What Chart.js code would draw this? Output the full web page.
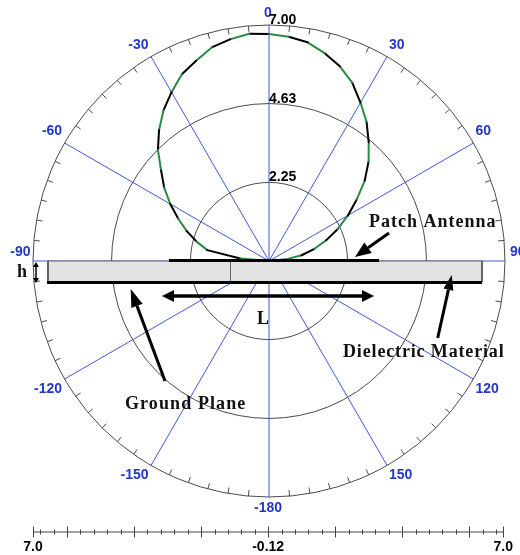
<!DOCTYPE html>
<html>
<head>
<meta charset="utf-8">
<title>Patch antenna radiation pattern</title>
<script src="https://cdn.jsdelivr.net/npm/chart.js@4"></script>
<style>
    html, body { margin: 0; padding: 0; background: #fff; overflow: hidden; }
    canvas { position: absolute; left: 0; }
    #polar-chart { top: 0; }
    #range-axis { top: 510px; }
</style>
</head>
<body>
<canvas id="polar-chart" width="520" height="522"></canvas>
<canvas id="range-axis" width="520" height="45"></canvas>
<script>
// Pattern, one value every 5 degrees
const patternAngles = [
    -90, -85, -80, -75, -70, -65, -60, -55, -50, -45, -40, -35, -30, -25, -20, -15, -10, -5,
    0, 5, 10, 15, 20, 25, 30, 35, 40, 45, 50, 55, 60, 65, 70, 75, 80, 85, 90
];
const patternValues = [
    -0.12, 0.75, 1.77, 2.14, 2.52, 2.90, 3.32, 3.74, 4.13, 4.62, 5.04, 5.43, 5.76, 6.10, 6.31, 6.55, 6.67, 6.76,
    6.73, 6.67, 6.58, 6.37, 6.13, 5.82, 5.40, 5.01, 4.56, 4.13, 3.65, 3.11, 2.63, 2.17, 1.72, 1.30, 0.88, 0.36, -0.12
];

const ringValues = [2.25, 4.63, 7.00];
const ringLabels = ['2.25', '4.63', '7.00'];
const rangeMin = -0.12;
const rangeMax = 7.00;

const axisLabels = ['7.0', '-0.12', '7.0'];
const axisHalfSpan = 7.12;
const axisMinorStep = 0.406;

const BLUE = '#4358d8';
const TEXT_BLUE = '#2436c8';
const GRID = '#4a4a4a';
const GREEN = '#2a8a45';
const INK = '#111';
const SERIF = "'Liberation Serif', serif";
const SANS = "'Liberation Sans', Arial, sans-serif";

// spokes run clockwise from the top, every 5 degrees
const spokeAngles = [];
for (let a = 0; a < 360; a += 5) spokeAngles.push(a);

const spokeLabels = spokeAngles.map(a => String(a <= 150 ? a : a - 360));

const spokeValues = spokeAngles.map(a => {
    const i = patternAngles.indexOf(a <= 180 ? a : a - 360);
    return i === -1 ? null : patternValues[i];
});

// the trace alternates green and black every sample, radar has no segment option
// so each piece between two samples is its own small dataset
const patternDatasets = [];
spokeValues.forEach((v, i) => {
    const next = (i + 1) % spokeValues.length;
    if (v === null || spokeValues[next] === null) return;
    patternDatasets.push({
        data: spokeValues.map((value, k) => (k === i || k === next) ? value : null),
        borderWidth: 2,
        borderColor: i % 2 === 0 ? GREEN : '#000',
        borderCapStyle: 'round',
        backgroundColor: 'transparent',
        fill: false,
        tension: 0,
        spanGaps: false,
        pointRadius: 0
    });
});

function drawArrow(ctx, x0, y0, x1, y1, width, headLength, headWidth) {
    const angle = Math.atan2(y1 - y0, x1 - x0);
    const bx = x1 - Math.cos(angle) * headLength;
    const by = y1 - Math.sin(angle) * headLength;
    ctx.strokeStyle = '#000';
    ctx.fillStyle = '#000';
    ctx.lineWidth = width;
    ctx.beginPath();
    ctx.moveTo(x0, y0);
    ctx.lineTo(bx, by);
    ctx.stroke();
    ctx.beginPath();
    ctx.moveTo(x1, y1);
    ctx.lineTo(bx - Math.sin(angle) * headWidth / 2, by + Math.cos(angle) * headWidth / 2);
    ctx.lineTo(bx + Math.sin(angle) * headWidth / 2, by - Math.cos(angle) * headWidth / 2);
    ctx.closePath();
    ctx.fill();
}

function drawNote(ctx, text, x, y, spacing) {
    ctx.font = 'bold 18px ' + SERIF;
    ctx.letterSpacing = spacing + 'px';
    ctx.textAlign = 'left';
    ctx.textBaseline = 'alphabetic';
    ctx.fillStyle = INK;
    ctx.fillText(text, x, y);
    ctx.letterSpacing = '0px';
}

// rim ticks, spoke captions and ring captions
const polarLabels = {
    id: 'polarLabels',
    afterDatasetsDraw(chart) {
        const { ctx, scales: { r } } = chart;
        const rim = r.getDistanceFromCenterForValue(rangeMax);
        ctx.save();

        ctx.strokeStyle = GRID;
        ctx.lineWidth = 1;
        spokeAngles.forEach((a, i) => {
            if (a % 30 === 0) return;
            const outer = r.getPointPosition(i, rim);
            const inner = r.getPointPosition(i, rim - 6);
            ctx.beginPath();
            ctx.moveTo(outer.x, outer.y);
            ctx.lineTo(inner.x, inner.y);
            ctx.stroke();
        });

        ctx.font = 'bold 14px ' + SANS;
        ctx.fillStyle = TEXT_BLUE;
        ctx.textBaseline = 'middle';
        spokeAngles.forEach((a, i) => {
            if (a % 30 !== 0) return;
            const p = r.getPointPosition(i, rim);
            if (a === 0 || a === 180) {
                ctx.textAlign = 'center';
                ctx.fillText(spokeLabels[i], p.x - 1, a === 0 ? p.y - 12 : p.y + 11);
            } else if (a < 180) {
                ctx.textAlign = 'left';
                ctx.fillText(spokeLabels[i], p.x + (a === 90 ? 5 : 2), a < 90 ? p.y - 11.5 : (a === 90 ? p.y - 9 : p.y + 10));
            } else {
                ctx.textAlign = 'right';
                ctx.fillText(spokeLabels[i], p.x - 2.5, a > 270 ? p.y - 11.5 : (a === 270 ? p.y - 9 : p.y + 10));
            }
        });

        ctx.fillStyle = '#000';
        ctx.textAlign = 'left';
        ctx.textBaseline = 'alphabetic';
        ringValues.forEach((v, i) => {
            const p = r.getPointPositionForValue(0, v);
            ctx.fillText(ringLabels[i], p.x, p.y - 1);
        });

        ctx.restore();
    }
};

// the antenna drawn over the pattern
const antennaSketch = {
    id: 'antennaSketch',
    afterDraw(chart) {
        const { ctx } = chart;
        ctx.save();

        // dielectric slab
        ctx.fillStyle = '#e2e2e2';
        ctx.fillRect(48, 261, 434, 21);
        ctx.strokeStyle = '#666';
        ctx.lineWidth = 1;
        ctx.strokeRect(48, 261, 434, 21);
        ctx.lineWidth = 2;
        ctx.beginPath();
        ctx.moveTo(48, 261);
        ctx.lineTo(48, 282);
        ctx.moveTo(482, 261);
        ctx.lineTo(482, 282);
        ctx.stroke();
        ctx.lineWidth = 1;
        ctx.beginPath();
        ctx.moveTo(230.5, 261);
        ctx.lineTo(230.5, 282);
        ctx.stroke();

        // patch and ground plane
        ctx.fillStyle = '#000';
        ctx.fillRect(169, 259, 210, 3);
        ctx.fillRect(47, 281, 435, 3);

        // L dimension
        drawArrow(ctx, 268, 296, 162, 296, 3.5, 12, 12);
        drawArrow(ctx, 268, 296, 374, 296, 3.5, 12, 12);

        // h dimension
        drawArrow(ctx, 36, 272, 36, 262, 1.5, 5, 6);
        drawArrow(ctx, 36, 272, 36, 283, 1.5, 5, 6);

        // leaders
        drawArrow(ctx, 389, 233, 355, 257, 3, 16, 13);
        drawArrow(ctx, 437.7, 338, 451.7, 275, 3, 15, 10);
        drawArrow(ctx, 165, 381, 130.7, 289, 3, 18, 12);

        drawNote(ctx, 'Patch Antenna', 369, 227, 1);
        drawNote(ctx, 'Dielectric Material', 343, 357, 0.85);
        drawNote(ctx, 'Ground Plane', 125, 409, 1.1);
        drawNote(ctx, 'L', 257, 324, 0);
        drawNote(ctx, 'h', 17, 277, 0);

        ctx.restore();
    }
};

new Chart(document.getElementById('polar-chart'), {
    type: 'radar',
    data: {
        labels: spokeLabels,
        datasets: patternDatasets
    },
    options: {
        responsive: false,
        animation: false,
        events: [],
        layout: { padding: { left: 33, right: 15, top: 25, bottom: 25 } },
        plugins: { legend: { display: false }, tooltip: { enabled: false } },
        scales: {
            r: {
                min: rangeMin,
                max: rangeMax,
                afterBuildTicks: axis => {
                    axis.ticks = [rangeMin, ...ringValues].map(value => ({ value }));
                },
                ticks: { display: false, showLabelBackdrop: false },
                pointLabels: { display: false },
                grid: { circular: true, color: GRID, lineWidth: 1 },
                angleLines: {
                    color: BLUE,
                    lineWidth: ctx => ctx.index % 6 === 0 ? 1 : 0
                }
            }
        }
    },
    plugins: [polarLabels, antennaSketch]
});

// bottom range bar
const rangeBarMarks = {
    id: 'rangeBarMarks',
    afterDraw(chart) {
        const { ctx, scales: { x } } = chart;
        const y = chart.chartArea.bottom;
        ctx.save();
        ctx.strokeStyle = '#444';
        ctx.lineWidth = 1;
        ctx.beginPath();
        ctx.moveTo(x.left, y + 0.5);
        ctx.lineTo(x.right, y + 0.5);
        ctx.stroke();
        x.ticks.forEach(t => {
            const px = Math.round(x.getPixelForValue(t.value)) + 0.5;
            ctx.beginPath();
            ctx.moveTo(px, y - (t.major ? 5 : 2));
            ctx.lineTo(px, y + (t.major ? 6 : 3));
            ctx.stroke();
        });
        ctx.restore();
    }
};

new Chart(document.getElementById('range-axis'), {
    type: 'scatter',
    data: { datasets: [] },
    options: {
        responsive: false,
        animation: false,
        events: [],
        layout: { padding: { left: 33, right: 15, top: 0, bottom: 2 } },
        plugins: { legend: { display: false }, tooltip: { enabled: false } },
        scales: {
            y: { display: false },
            x: {
                type: 'linear',
                min: -axisHalfSpan,
                max: axisHalfSpan,
                afterBuildTicks: axis => {
                    const ticks = [{ value: -axisHalfSpan, major: true }, { value: axisHalfSpan, major: true }];
                    for (let k = -17; k <= 17; k++) {
                        ticks.push({ value: k * axisMinorStep, major: k % 5 === 0 });
                    }
                    axis.ticks = ticks.sort((a, b) => a.value - b.value);
                },
                grid: { display: false, drawTicks: false },
                border: { display: false },
                ticks: {
                    autoSkip: false,
                    maxRotation: 0,
                    padding: 7,
                    color: '#000',
                    font: { family: SANS, size: 14, weight: 'bold' },
                    callback: value => {
                        if (value === -axisHalfSpan) return axisLabels[0];
                        if (value === 0) return axisLabels[1];
                        if (value === axisHalfSpan) return axisLabels[2];
                        return '';
                    }
                }
            }
        }
    },
    plugins: [rangeBarMarks]
});
</script>
</body>
</html>
